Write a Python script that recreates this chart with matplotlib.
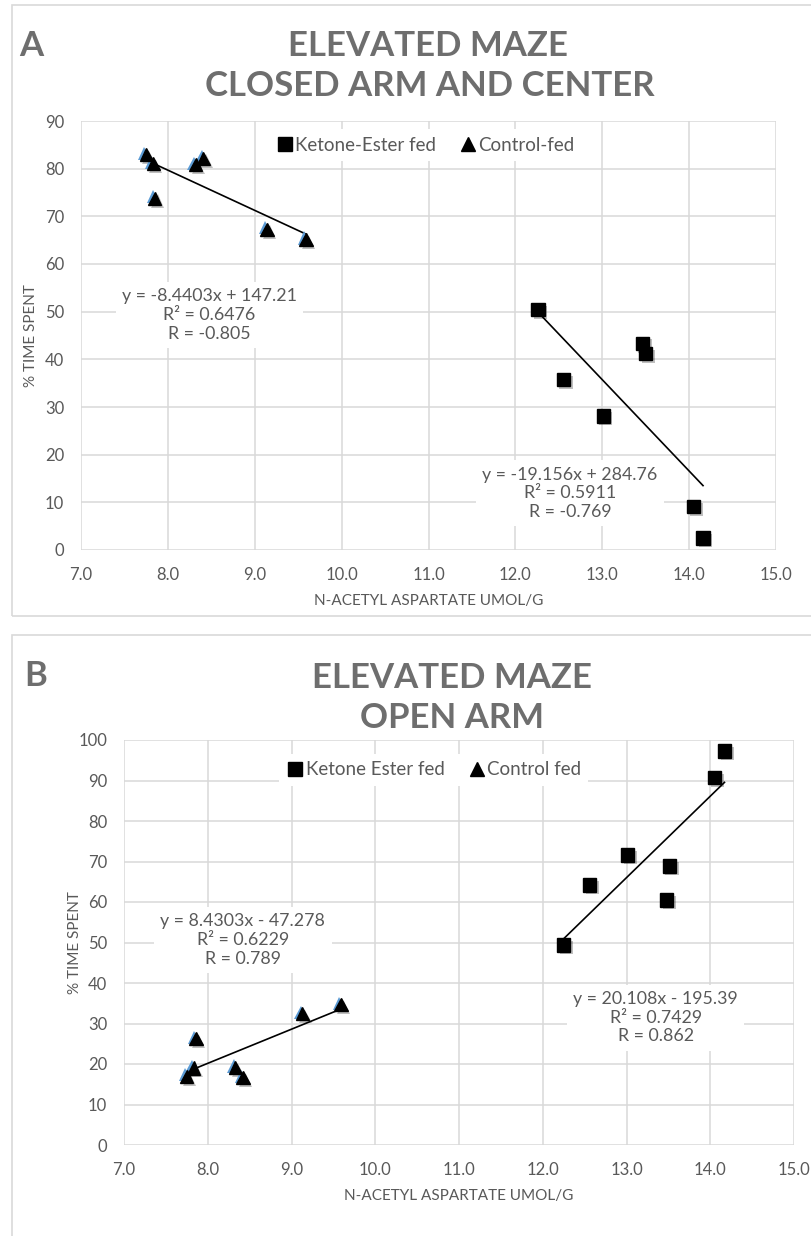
import numpy as np
import matplotlib.pyplot as plt
import matplotlib.patheffects as pe
from matplotlib.patches import Rectangle
from matplotlib.lines import Line2D
from matplotlib import font_manager

# NAA (umol/g) vs % time spent
naa_ctrl_a = [7.75, 7.83, 7.85, 8.32, 8.41, 9.14, 9.59]
time_ctrl_a = [82.9, 81.0, 73.8, 80.8, 82.2, 67.3, 65.1]
naa_keto_a = [12.26, 12.55, 13.01, 13.46, 13.50, 14.05, 14.16]
time_keto_a = [50.4, 35.7, 28.1, 43.4, 41.2, 9.1, 2.5]

naa_ctrl_b = [7.75, 7.83, 7.86, 8.33, 8.42, 9.13, 9.59]
time_ctrl_b = [16.9, 19.0, 26.2, 19.1, 16.6, 32.4, 34.6]
naa_keto_b = [12.25, 12.56, 13.01, 13.48, 13.51, 14.05, 14.17]
time_keto_b = [49.4, 64.2, 71.6, 60.5, 68.9, 90.7, 97.3]

# trendline coefficients as printed on the chart
fit_ctrl_a = (-8.4403, 147.21)
fit_keto_a = (-19.156, 284.76)
fit_ctrl_b = (8.4303, -47.278)
fit_keto_b = (20.108, -195.39)

eq_ctrl_a = "y = -8.4403x + 147.21\nR² = 0.6476\nR = -0.805"
eq_keto_a = "y = -19.156x + 284.76\nR² = 0.5911\nR = -0.769"
eq_ctrl_b = "y = 8.4303x - 47.278\nR² = 0.6229\nR = 0.789"
eq_keto_b = "y = 20.108x - 195.39\nR² = 0.7429\nR = 0.862"

x_ticks = [7.0, 8.0, 9.0, 10.0, 11.0, 12.0, 13.0, 14.0, 15.0]

GRAY = "#595959"
TITLE_GRAY = "#6e6e6e"
GRID = "#d9d9d9"

names = {f.name for f in font_manager.fontManager.ttflist}
BASE = "Lato" if "Lato" in names else "DejaVu Sans"
plt.rcParams["font.family"] = [BASE, "DejaVu Sans"]

fig = plt.figure(figsize=(8.12, 12.36), dpi=100)
W, H = 812, 1236


def px_box(x0, y0, x1, y1):
    return [x0 / W, 1 - y1 / H, (x1 - x0) / W, (y1 - y0) / H]


# panel frames
for (y0, y1) in [(5, 616), (635, 1300)]:
    fig.patches.append(Rectangle((12 / W, 1 - y1 / H), (900 - 12) / W, (y1 - y0) / H,
                                 transform=fig.transFigure, fill=False,
                                 edgecolor=GRID, linewidth=1.2))

shadow = [pe.SimplePatchShadow(offset=(2, -2), shadow_rgbFace="black", alpha=0.25),
          pe.Normal()]
tri_fx = [pe.SimplePatchShadow(offset=(2, -2), shadow_rgbFace="black", alpha=0.25),
          pe.SimplePatchShadow(offset=(-1.2, 1.2), shadow_rgbFace="#5b9bd5", alpha=1.0),
          pe.Normal()]


def panel(rect, ymax, ystep, ctrl, keto, fits, eqs, eq_pos, leg_labels, leg_anchor):
    ax = fig.add_axes(rect)
    ax.set_xlim(7, 15)
    ax.set_ylim(0, ymax)
    ax.set_xticks(x_ticks)
    ax.set_xticklabels([f"{t:.1f}" for t in x_ticks])
    ax.set_yticks(np.arange(0, ymax + 1, ystep))
    ax.grid(True, color=GRID, linewidth=1.1)
    ax.set_axisbelow(True)
    for s in ax.spines.values():
        s.set_visible(False)
    ax.tick_params(length=0, colors=GRAY, labelsize=12)
    ax.tick_params(axis="x", pad=12)
    ax.tick_params(axis="y", pad=12)

    ax.plot(keto[0], keto[1], "s", color="black", markersize=9.5,
            linestyle="none", path_effects=shadow, zorder=4)
    ax.plot(ctrl[0], ctrl[1], "^", color="black", markersize=9.5,
            linestyle="none", path_effects=tri_fx, zorder=4)

    for (xs, (m, b)) in [(ctrl[0], fits[0]), (keto[0], fits[1])]:
        xl = np.array([min(xs), max(xs)])
        ax.plot(xl, m * xl + b, color="black", linewidth=1.2, zorder=3)

    for txt, (x, y) in zip(eqs, eq_pos):
        ax.text(x, y, txt, ha="center", va="center", color=GRAY, fontsize=12.8,
                linespacing=1.2, zorder=2,
                bbox=dict(boxstyle="square,pad=0.35", facecolor="white", edgecolor="none"))

    hs = [Line2D([], [], marker="s", color="black", linestyle="none", markersize=10),
          Line2D([], [], marker="^", color="black", linestyle="none", markersize=10)]
    leg = ax.legend(handles=hs, labels=list(leg_labels), loc="center",
                    bbox_to_anchor=leg_anchor, ncol=2, frameon=True, fontsize=13.5,
                    handletextpad=0.05, columnspacing=1.2, handlelength=1.0,
                    borderpad=0.4)
    leg.get_frame().set_facecolor("white")
    leg.get_frame().set_edgecolor("none")
    leg.get_frame().set_alpha(1)
    for t in leg.get_texts():
        t.set_color(GRAY)

    ax.set_ylabel("% TIME SPENT", color=GRAY, fontsize=11)
    ax.set_xlabel("N-ACETYL ASPARTATE UMOL/G", color=GRAY, fontsize=11, labelpad=8)
    ax.yaxis.set_label_coords(-0.062, 0.5)
    return ax


ax_a = panel(px_box(81, 121, 776, 550), 90, 10,
             (naa_ctrl_a, time_ctrl_a), (naa_keto_a, time_keto_a),
             (fit_ctrl_a, fit_keto_a), (eq_ctrl_a, eq_keto_a),
             [(8.48, 49.3), (12.63, 11.9)],
             ("Ketone-Ester fed", "Control-fed"), (0.495, 0.944))

ax_b = panel(px_box(124, 740, 794, 1145), 100, 10,
             (naa_ctrl_b, time_ctrl_b), (naa_keto_b, time_keto_b),
             (fit_ctrl_b, fit_keto_b), (eq_ctrl_b, eq_keto_b),
             [(8.42, 50.6), (13.35, 31.4)],
             ("Ketone Ester fed", "Control fed"), (0.462, 0.926))

# titles and panel letters
tkw = dict(color=TITLE_GRAY, fontsize=25, fontweight="bold", ha="center", va="center")
fig.text(428 / W, 1 - 46 / H, "ELEVATED MAZE", **tkw)
fig.text(430 / W, 1 - 86 / H, "CLOSED ARM AND CENTER", **tkw)
fig.text(452 / W, 1 - 678 / H, "ELEVATED MAZE", **tkw)
fig.text(452 / W, 1 - 718 / H, "OPEN ARM", **tkw)
fig.text(31 / W, 1 - 46 / H, "A", **tkw)
fig.text(36 / W, 1 - 676 / H, "B", **tkw)

fig.savefig("out.png", dpi=100)
